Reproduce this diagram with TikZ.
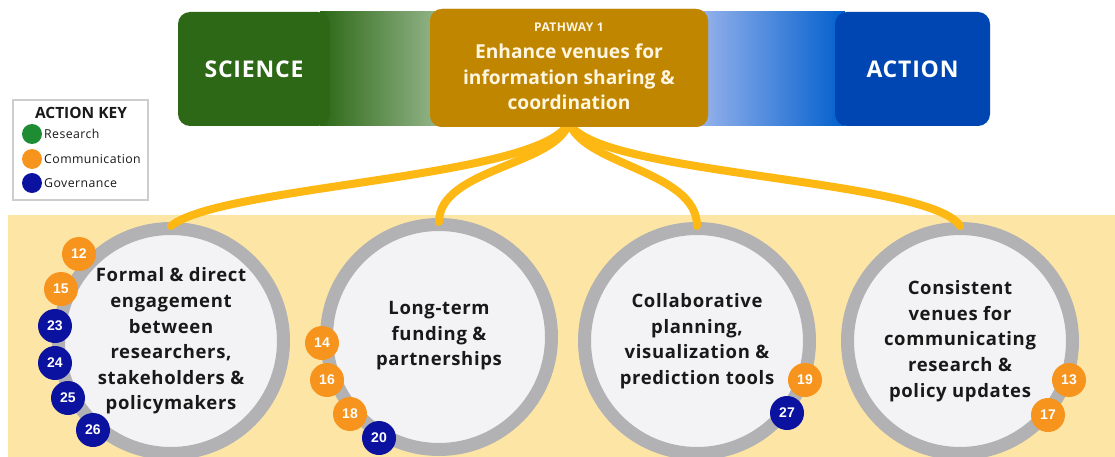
\documentclass[tikz,border=0pt]{standalone}
\usepackage{fontspec}
\setmainfont{Open Sans}
\newfontfamily\numfont{Liberation Sans}
\newfontfamily\wideface[LetterSpace=3.5]{Open Sans}
\definecolor{sciGreen}{RGB}{44,104,22}
\definecolor{sciLight}{RGB}{150,182,140}
\definecolor{actBlue}{RGB}{0,70,178}
\definecolor{actLight}{RGB}{150,178,235}
\definecolor{actMid}{RGB}{0,95,205}
\definecolor{gold}{RGB}{192,134,0}
\definecolor{paper}{RGB}{255,246,225}
\definecolor{link}{RGB}{253,184,19}
\definecolor{band}{RGB}{253,230,165}
\definecolor{ring}{RGB}{178,178,180}
\definecolor{disc}{RGB}{243,243,245}
\definecolor{comm}{RGB}{247,148,29}
\definecolor{gov}{RGB}{12,18,160}
\definecolor{res}{RGB}{30,140,50}
\definecolor{ink}{RGB}{25,25,25}
\definecolor{keyline}{RGB}{205,205,205}
\begin{document}
\begin{tikzpicture}[x=1pt,y=-1pt,
  venue/.style={circle, draw=ring, line width=13pt, fill=disc, minimum size=225pt, inner sep=0pt},
  venuetext/.style={align=center, text=ink, inner sep=0pt, font=\wideface\fontsize{18.5}{25.6}\selectfont\bfseries},
  badge/.style={circle, fill=#1, text=white, minimum size=34pt, inner sep=0pt, font=\numfont\fontsize{14}{14}\selectfont\bfseries},
  link/.style={draw=link, line width=8pt, line cap=round},
  endbox/.style={rounded corners=12pt, minimum height=114pt, text=white, font=\wideface\fontsize{23}{23}\selectfont\bfseries},
  keydot/.style={circle, fill=#1, minimum size=20pt, inner sep=0pt},
  keylabel/.style={anchor=west, inner sep=0pt, text=ink, font=\wideface\fontsize{12.3}{12.3}\selectfont}
]
\useasboundingbox (0,0) rectangle (1115,457);
\fill[white] (0,0) rectangle (1115,457);

% lower band holding the four venues
\fill[band] (8,215) rectangle (1115,457);

% venue discs
\node[venue] (c1) at (171,341) {};
\node[venue] (c2) at (439,337) {};
\node[venue] (c3) at (697,341) {};
\node[venue] (c4) at (960,341) {};

% top bar: gradients behind the end boxes
\shade[left color=sciGreen, right color=sciLight] (320,12) rectangle (440,126);
\shade[left color=actLight, right color=actMid] (700,12) rectangle (845,126);
\node[fill=gold, rounded corners=12pt, minimum width=278pt, minimum height=118pt] (gold) at (569,68) {};
\coordinate (hub) at ([yshift=6pt]gold.south);

% connectors from the pathway to each venue
\draw[link] (hub) .. controls (550,178) and (220,185) .. ([yshift=-4pt]c1.north);
\draw[link] (hub) .. controls (560,165) and (439,168) .. ([yshift=-4pt]c2.north);
\draw[link] (hub) .. controls (580,165) and (697,170) .. ([yshift=-4pt]c3.north);
\draw[link] (hub) .. controls (585,175) and (930,178) .. ([yshift=-4pt]c4.north);

% redraw the pathway box over the connector roots
\node[fill=gold, rounded corners=12pt, minimum width=278pt, minimum height=118pt] at (gold) {};
\node[text=paper, inner sep=0pt, font=\wideface\fontsize{12}{12}\selectfont\bfseries] (pw) at (569,27) {PATHWAY 1};
\node[text=paper, inner sep=0pt, align=center, font=\fontsize{19.2}{25.5}\selectfont\bfseries] (title) at (569,77) {Enhance venues for\\information sharing \&\\coordination};

\node[endbox, fill=sciGreen, minimum width=152pt] (sci) at (254,69) {SCIENCE};
\node[endbox, fill=actBlue, minimum width=155pt] (act) at (912.5,69) {ACTION};

% venue texts
\node[venuetext] (t1) at (c1) {Formal \& direct\\engagement\\between\\researchers,\\stakeholders \&\\policymakers};
\node[venuetext] (t2) at ([yshift=1pt]c2) {Long-term\\funding \&\\partnerships};
\node[venuetext] (t3) at (c3) {Collaborative\\planning,\\visualization \&\\prediction tools};
\node[venuetext] (t4) at (c4) {Consistent\\venues for\\communicating\\research \&\\policy updates};

% action badges
\node[badge=comm] (b12) at (79,254) {12};
\node[badge=comm] (b15) at (61,289) {15};
\node[badge=gov]  (b23) at (55,326) {23};
\node[badge=gov]  (b24) at (55,363) {24};
\node[badge=gov]  (b25) at (68,398) {25};
\node[badge=gov]  (b26) at (93,430) {26};

\node[badge=comm] (b14) at (322,343) {14};
\node[badge=comm] (b16) at (327,380) {16};
\node[badge=comm] (b18) at (350,414) {18};
\node[badge=gov]  (b20) at (379,438) {20};

\node[badge=comm] (b19) at (805,380) {19};
\node[badge=gov]  (b27) at (787,413) {27};

\node[badge=comm] (b13) at (1069,380) {13};
\node[badge=comm] (b17) at (1048,415) {17};

% action key
\node[draw=keyline, line width=2pt, fill=white, minimum width=135pt, minimum height=100pt] (key) at (80.5,150) {};
\node[inner sep=0pt, text=ink, font=\fontsize{15.5}{15.5}\selectfont\bfseries] (keytitle) at (81,113) {ACTION KEY};
\node[keydot=res]  (kr) at (32,134) {};
\node[keydot=comm] (kc) at (32,159) {};
\node[keydot=gov]  (kg) at (32,183) {};
\node[keylabel] (lr) at (44,134) {Research};
\node[keylabel] (lc) at (44,159) {Communication};
\node[keylabel] (lg) at (44,183) {Governance};
\end{tikzpicture}
\end{document}
